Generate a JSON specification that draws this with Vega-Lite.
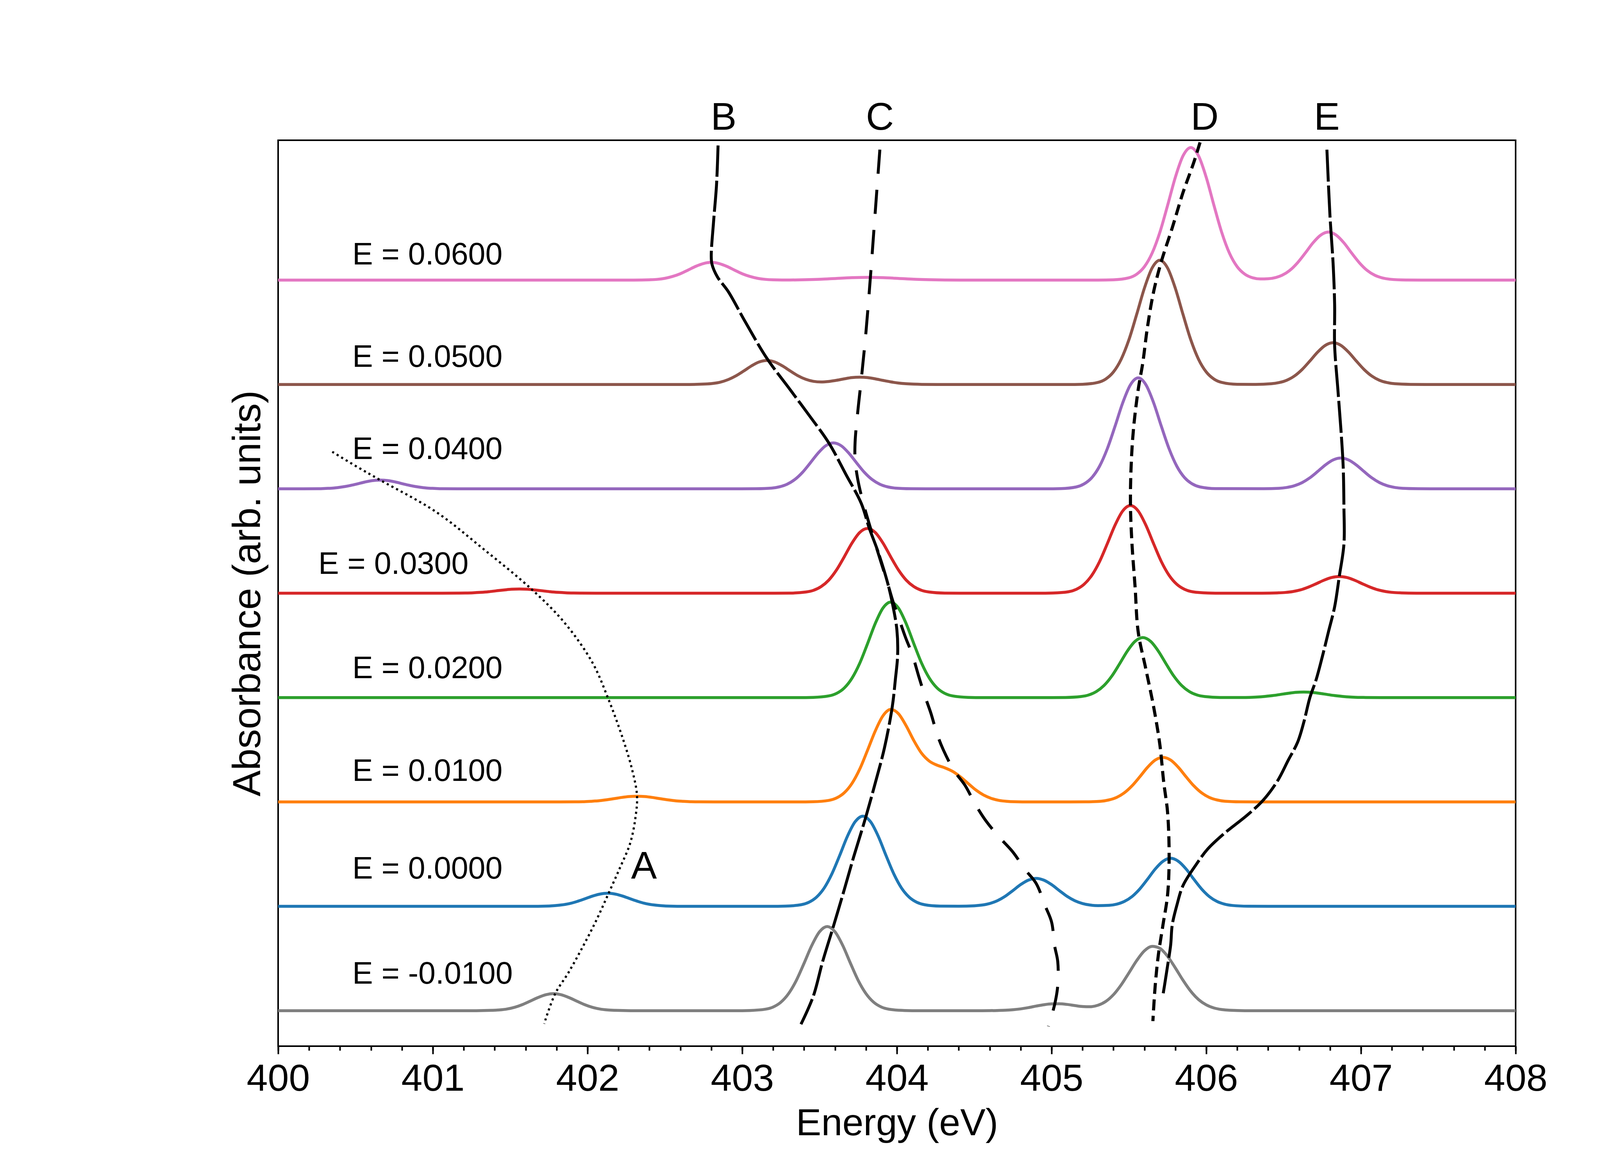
{
  "$schema": "https://vega.github.io/schema/vega-lite/v6.json",
  "width": 3168,
  "height": 2319,
  "autosize": {"type": "none"},
  "padding": {"left": 712, "top": 359, "right": 391, "bottom": 317},
  "background": "white",
  "datasets": {
    "spectra": [
      {"c":"E = -0.0100","x":400,"y":0},{"c":"E = -0.0100","x":401.28,"y":0},{"c":"E = -0.0100","x":401.38,"y":0.003},{"c":"E = -0.0100","x":401.43,"y":0.007},{"c":"E = -0.0100","x":401.48,"y":0.016},{"c":"E = -0.0100","x":401.53,"y":0.033},{"c":"E = -0.0100","x":401.58,"y":0.059},{"c":"E = -0.0100","x":401.63,"y":0.092},{"c":"E = -0.0100","x":401.68,"y":0.126},{"c":"E = -0.0100","x":401.73,"y":0.153},{"c":"E = -0.0100","x":401.78,"y":0.163},{"c":"E = -0.0100","x":401.83,"y":0.153},{"c":"E = -0.0100","x":401.88,"y":0.126},{"c":"E = -0.0100","x":401.93,"y":0.092},{"c":"E = -0.0100","x":401.98,"y":0.059},{"c":"E = -0.0100","x":402.03,"y":0.033},{"c":"E = -0.0100","x":402.08,"y":0.016},{"c":"E = -0.0100","x":402.13,"y":0.007},{"c":"E = -0.0100","x":402.18,"y":0.003},{"c":"E = -0.0100","x":402.28,"y":0},
      {"c":"E = -0.0100","x":402.95,"y":0},{"c":"E = -0.0100","x":403.05,"y":0.002},{"c":"E = -0.0100","x":403.15,"y":0.014},{"c":"E = -0.0100","x":403.2,"y":0.035},{"c":"E = -0.0100","x":403.25,"y":0.081},{"c":"E = -0.0100","x":403.3,"y":0.164},{"c":"E = -0.0100","x":403.35,"y":0.29},{"c":"E = -0.0100","x":403.4,"y":0.454},{"c":"E = -0.0100","x":403.45,"y":0.625},{"c":"E = -0.0100","x":403.5,"y":0.756},{"c":"E = -0.0100","x":403.55,"y":0.806},{"c":"E = -0.0100","x":403.6,"y":0.756},{"c":"E = -0.0100","x":403.65,"y":0.625},{"c":"E = -0.0100","x":403.7,"y":0.454},{"c":"E = -0.0100","x":403.75,"y":0.29},{"c":"E = -0.0100","x":403.8,"y":0.164},{"c":"E = -0.0100","x":403.85,"y":0.081},{"c":"E = -0.0100","x":403.9,"y":0.035},{"c":"E = -0.0100","x":403.95,"y":0.014},{"c":"E = -0.0100","x":404.05,"y":0.002},{"c":"E = -0.0100","x":404.15,"y":0},
      {"c":"E = -0.0100","x":404.55,"y":0},{"c":"E = -0.0100","x":404.65,"y":0.002},{"c":"E = -0.0100","x":404.7,"y":0.004},{"c":"E = -0.0100","x":404.75,"y":0.009},{"c":"E = -0.0100","x":404.8,"y":0.017},{"c":"E = -0.0100","x":404.85,"y":0.029},{"c":"E = -0.0100","x":404.9,"y":0.044},{"c":"E = -0.0100","x":404.95,"y":0.057},{"c":"E = -0.0100","x":405,"y":0.065},{"c":"E = -0.0100","x":405.05,"y":0.066},{"c":"E = -0.0100","x":405.1,"y":0.06},{"c":"E = -0.0100","x":405.15,"y":0.049},{"c":"E = -0.0100","x":405.2,"y":0.04},{"c":"E = -0.0100","x":405.25,"y":0.038},{"c":"E = -0.0100","x":405.3,"y":0.052},{"c":"E = -0.0100","x":405.35,"y":0.088},{"c":"E = -0.0100","x":405.4,"y":0.153},{"c":"E = -0.0100","x":405.45,"y":0.247},{"c":"E = -0.0100","x":405.5,"y":0.362},{"c":"E = -0.0100","x":405.55,"y":0.479},{"c":"E = -0.0100","x":405.6,"y":0.573},{"c":"E = -0.0100","x":405.65,"y":0.616},{"c":"E = -0.0100","x":405.7,"y":0.597},{"c":"E = -0.0100","x":405.75,"y":0.521},{"c":"E = -0.0100","x":405.8,"y":0.41},{"c":"E = -0.0100","x":405.85,"y":0.291},{"c":"E = -0.0100","x":405.9,"y":0.186},{"c":"E = -0.0100","x":405.95,"y":0.107},{"c":"E = -0.0100","x":406,"y":0.056},{"c":"E = -0.0100","x":406.05,"y":0.026},{"c":"E = -0.0100","x":406.1,"y":0.011},{"c":"E = -0.0100","x":406.15,"y":0.004},{"c":"E = -0.0100","x":406.25,"y":0},{"c":"E = -0.0100","x":408,"y":0},

      {"c":"E = 0.0000","x":400,"y":1},{"c":"E = 0.0000","x":401.63,"y":1},{"c":"E = 0.0000","x":401.73,"y":1.002},{"c":"E = 0.0000","x":401.78,"y":1.006},{"c":"E = 0.0000","x":401.83,"y":1.013},{"c":"E = 0.0000","x":401.88,"y":1.025},{"c":"E = 0.0000","x":401.93,"y":1.045},{"c":"E = 0.0000","x":401.98,"y":1.07},{"c":"E = 0.0000","x":402.03,"y":1.097},{"c":"E = 0.0000","x":402.08,"y":1.117},{"c":"E = 0.0000","x":402.13,"y":1.125},{"c":"E = 0.0000","x":402.18,"y":1.117},{"c":"E = 0.0000","x":402.23,"y":1.097},{"c":"E = 0.0000","x":402.28,"y":1.07},{"c":"E = 0.0000","x":402.33,"y":1.045},{"c":"E = 0.0000","x":402.38,"y":1.025},{"c":"E = 0.0000","x":402.43,"y":1.013},{"c":"E = 0.0000","x":402.48,"y":1.006},{"c":"E = 0.0000","x":402.53,"y":1.002},{"c":"E = 0.0000","x":402.63,"y":1},
      {"c":"E = 0.0000","x":403.18,"y":1},{"c":"E = 0.0000","x":403.28,"y":1.002},{"c":"E = 0.0000","x":403.38,"y":1.015},{"c":"E = 0.0000","x":403.43,"y":1.038},{"c":"E = 0.0000","x":403.48,"y":1.087},{"c":"E = 0.0000","x":403.53,"y":1.175},{"c":"E = 0.0000","x":403.58,"y":1.311},{"c":"E = 0.0000","x":403.63,"y":1.486},{"c":"E = 0.0000","x":403.68,"y":1.67},{"c":"E = 0.0000","x":403.73,"y":1.81},{"c":"E = 0.0000","x":403.78,"y":1.864},{"c":"E = 0.0000","x":403.83,"y":1.81},{"c":"E = 0.0000","x":403.88,"y":1.67},{"c":"E = 0.0000","x":403.93,"y":1.486},{"c":"E = 0.0000","x":403.98,"y":1.311},{"c":"E = 0.0000","x":404.03,"y":1.175},{"c":"E = 0.0000","x":404.08,"y":1.087},{"c":"E = 0.0000","x":404.13,"y":1.038},{"c":"E = 0.0000","x":404.18,"y":1.015},{"c":"E = 0.0000","x":404.28,"y":1.002},
      {"c":"E = 0.0000","x":404.4,"y":1.001},{"c":"E = 0.0000","x":404.5,"y":1.005},{"c":"E = 0.0000","x":404.55,"y":1.012},{"c":"E = 0.0000","x":404.6,"y":1.027},{"c":"E = 0.0000","x":404.65,"y":1.054},{"c":"E = 0.0000","x":404.7,"y":1.096},{"c":"E = 0.0000","x":404.75,"y":1.151},{"c":"E = 0.0000","x":404.8,"y":1.208},{"c":"E = 0.0000","x":404.85,"y":1.251},{"c":"E = 0.0000","x":404.9,"y":1.268},{"c":"E = 0.0000","x":404.95,"y":1.251},{"c":"E = 0.0000","x":405,"y":1.208},{"c":"E = 0.0000","x":405.05,"y":1.151},{"c":"E = 0.0000","x":405.1,"y":1.096},{"c":"E = 0.0000","x":405.15,"y":1.054},{"c":"E = 0.0000","x":405.2,"y":1.027},{"c":"E = 0.0000","x":405.25,"y":1.012},{"c":"E = 0.0000","x":405.3,"y":1.007},{"c":"E = 0.0000","x":405.37,"y":1.009},{"c":"E = 0.0000","x":405.42,"y":1.02},{"c":"E = 0.0000","x":405.47,"y":1.046},{"c":"E = 0.0000","x":405.52,"y":1.093},{"c":"E = 0.0000","x":405.57,"y":1.166},{"c":"E = 0.0000","x":405.62,"y":1.259},{"c":"E = 0.0000","x":405.67,"y":1.357},{"c":"E = 0.0000","x":405.72,"y":1.431},{"c":"E = 0.0000","x":405.77,"y":1.46},{"c":"E = 0.0000","x":405.82,"y":1.431},{"c":"E = 0.0000","x":405.87,"y":1.357},{"c":"E = 0.0000","x":405.92,"y":1.259},{"c":"E = 0.0000","x":405.97,"y":1.166},{"c":"E = 0.0000","x":406.02,"y":1.093},{"c":"E = 0.0000","x":406.07,"y":1.046},{"c":"E = 0.0000","x":406.12,"y":1.02},{"c":"E = 0.0000","x":406.17,"y":1.008},{"c":"E = 0.0000","x":406.27,"y":1.001},{"c":"E = 0.0000","x":406.4,"y":1},{"c":"E = 0.0000","x":408,"y":1},

      {"c":"E = 0.0100","x":400,"y":2},{"c":"E = 0.0100","x":401.82,"y":2},{"c":"E = 0.0100","x":401.92,"y":2.001},{"c":"E = 0.0100","x":401.97,"y":2.002},{"c":"E = 0.0100","x":402.02,"y":2.006},{"c":"E = 0.0100","x":402.07,"y":2.011},{"c":"E = 0.0100","x":402.12,"y":2.02},{"c":"E = 0.0100","x":402.17,"y":2.031},{"c":"E = 0.0100","x":402.22,"y":2.043},{"c":"E = 0.0100","x":402.27,"y":2.052},{"c":"E = 0.0100","x":402.32,"y":2.055},{"c":"E = 0.0100","x":402.37,"y":2.052},{"c":"E = 0.0100","x":402.42,"y":2.043},{"c":"E = 0.0100","x":402.47,"y":2.031},{"c":"E = 0.0100","x":402.52,"y":2.02},{"c":"E = 0.0100","x":402.57,"y":2.011},{"c":"E = 0.0100","x":402.62,"y":2.006},{"c":"E = 0.0100","x":402.67,"y":2.002},{"c":"E = 0.0100","x":402.72,"y":2.001},{"c":"E = 0.0100","x":402.82,"y":2},
      {"c":"E = 0.0100","x":403.36,"y":2},{"c":"E = 0.0100","x":403.46,"y":2.002},{"c":"E = 0.0100","x":403.56,"y":2.015},{"c":"E = 0.0100","x":403.61,"y":2.038},{"c":"E = 0.0100","x":403.66,"y":2.088},{"c":"E = 0.0100","x":403.71,"y":2.178},{"c":"E = 0.0100","x":403.76,"y":2.315},{"c":"E = 0.0100","x":403.81,"y":2.494},{"c":"E = 0.0100","x":403.86,"y":2.679},{"c":"E = 0.0100","x":403.91,"y":2.825},{"c":"E = 0.0100","x":403.96,"y":2.886},{"c":"E = 0.0100","x":404.01,"y":2.846},{"c":"E = 0.0100","x":404.06,"y":2.73},{"c":"E = 0.0100","x":404.11,"y":2.587},{"c":"E = 0.0100","x":404.16,"y":2.466},{"c":"E = 0.0100","x":404.21,"y":2.391},{"c":"E = 0.0100","x":404.26,"y":2.352},{"c":"E = 0.0100","x":404.31,"y":2.327},{"c":"E = 0.0100","x":404.36,"y":2.293},{"c":"E = 0.0100","x":404.41,"y":2.241},{"c":"E = 0.0100","x":404.46,"y":2.178},{"c":"E = 0.0100","x":404.51,"y":2.115},{"c":"E = 0.0100","x":404.56,"y":2.067},{"c":"E = 0.0100","x":404.61,"y":2.034},{"c":"E = 0.0100","x":404.66,"y":2.015},{"c":"E = 0.0100","x":404.71,"y":2.006},{"c":"E = 0.0100","x":404.76,"y":2.002},{"c":"E = 0.0100","x":404.86,"y":2},
      {"c":"E = 0.0100","x":405.12,"y":2},{"c":"E = 0.0100","x":405.22,"y":2.001},{"c":"E = 0.0100","x":405.32,"y":2.007},{"c":"E = 0.0100","x":405.37,"y":2.019},{"c":"E = 0.0100","x":405.42,"y":2.043},{"c":"E = 0.0100","x":405.47,"y":2.087},{"c":"E = 0.0100","x":405.52,"y":2.154},{"c":"E = 0.0100","x":405.57,"y":2.24},{"c":"E = 0.0100","x":405.62,"y":2.331},{"c":"E = 0.0100","x":405.67,"y":2.401},{"c":"E = 0.0100","x":405.72,"y":2.427},{"c":"E = 0.0100","x":405.77,"y":2.401},{"c":"E = 0.0100","x":405.82,"y":2.331},{"c":"E = 0.0100","x":405.87,"y":2.24},{"c":"E = 0.0100","x":405.92,"y":2.154},{"c":"E = 0.0100","x":405.97,"y":2.087},{"c":"E = 0.0100","x":406.02,"y":2.043},{"c":"E = 0.0100","x":406.07,"y":2.019},{"c":"E = 0.0100","x":406.12,"y":2.007},{"c":"E = 0.0100","x":406.22,"y":2.001},{"c":"E = 0.0100","x":406.32,"y":2},{"c":"E = 0.0100","x":408,"y":2},

      {"c":"E = 0.0200","x":400,"y":3},{"c":"E = 0.0200","x":403.36,"y":3},{"c":"E = 0.0200","x":403.46,"y":3.002},{"c":"E = 0.0200","x":403.56,"y":3.016},{"c":"E = 0.0200","x":403.61,"y":3.04},{"c":"E = 0.0200","x":403.66,"y":3.092},{"c":"E = 0.0200","x":403.71,"y":3.186},{"c":"E = 0.0200","x":403.76,"y":3.329},{"c":"E = 0.0200","x":403.81,"y":3.515},{"c":"E = 0.0200","x":403.86,"y":3.709},{"c":"E = 0.0200","x":403.91,"y":3.858},{"c":"E = 0.0200","x":403.96,"y":3.915},{"c":"E = 0.0200","x":404.01,"y":3.858},{"c":"E = 0.0200","x":404.06,"y":3.709},{"c":"E = 0.0200","x":404.11,"y":3.515},{"c":"E = 0.0200","x":404.16,"y":3.329},{"c":"E = 0.0200","x":404.21,"y":3.186},{"c":"E = 0.0200","x":404.26,"y":3.092},{"c":"E = 0.0200","x":404.31,"y":3.04},{"c":"E = 0.0200","x":404.36,"y":3.016},{"c":"E = 0.0200","x":404.46,"y":3.002},{"c":"E = 0.0200","x":404.56,"y":3},
      {"c":"E = 0.0200","x":405,"y":3},{"c":"E = 0.0200","x":405.09,"y":3.001},{"c":"E = 0.0200","x":405.19,"y":3.01},{"c":"E = 0.0200","x":405.24,"y":3.025},{"c":"E = 0.0200","x":405.29,"y":3.058},{"c":"E = 0.0200","x":405.34,"y":3.117},{"c":"E = 0.0200","x":405.39,"y":3.207},{"c":"E = 0.0200","x":405.44,"y":3.324},{"c":"E = 0.0200","x":405.49,"y":3.446},{"c":"E = 0.0200","x":405.54,"y":3.539},{"c":"E = 0.0200","x":405.59,"y":3.575},{"c":"E = 0.0200","x":405.64,"y":3.539},{"c":"E = 0.0200","x":405.69,"y":3.446},{"c":"E = 0.0200","x":405.74,"y":3.324},{"c":"E = 0.0200","x":405.79,"y":3.207},{"c":"E = 0.0200","x":405.84,"y":3.117},{"c":"E = 0.0200","x":405.89,"y":3.058},{"c":"E = 0.0200","x":405.94,"y":3.025},{"c":"E = 0.0200","x":405.99,"y":3.01},{"c":"E = 0.0200","x":406.09,"y":3.001},
      {"c":"E = 0.0200","x":406.23,"y":3.001},{"c":"E = 0.0200","x":406.28,"y":3.002},{"c":"E = 0.0200","x":406.33,"y":3.005},{"c":"E = 0.0200","x":406.38,"y":3.011},{"c":"E = 0.0200","x":406.43,"y":3.019},{"c":"E = 0.0200","x":406.48,"y":3.03},{"c":"E = 0.0200","x":406.53,"y":3.041},{"c":"E = 0.0200","x":406.58,"y":3.05},{"c":"E = 0.0200","x":406.63,"y":3.053},{"c":"E = 0.0200","x":406.68,"y":3.05},{"c":"E = 0.0200","x":406.73,"y":3.041},{"c":"E = 0.0200","x":406.78,"y":3.03},{"c":"E = 0.0200","x":406.83,"y":3.019},{"c":"E = 0.0200","x":406.88,"y":3.011},{"c":"E = 0.0200","x":406.93,"y":3.005},{"c":"E = 0.0200","x":406.98,"y":3.002},{"c":"E = 0.0200","x":407.03,"y":3.001},{"c":"E = 0.0200","x":407.13,"y":3},{"c":"E = 0.0200","x":408,"y":3},

      {"c":"E = 0.0300","x":400,"y":4},{"c":"E = 0.0300","x":401.06,"y":4},{"c":"E = 0.0300","x":401.16,"y":4.001},{"c":"E = 0.0300","x":401.21,"y":4.002},{"c":"E = 0.0300","x":401.26,"y":4.004},{"c":"E = 0.0300","x":401.31,"y":4.008},{"c":"E = 0.0300","x":401.36,"y":4.014},{"c":"E = 0.0300","x":401.41,"y":4.023},{"c":"E = 0.0300","x":401.46,"y":4.031},{"c":"E = 0.0300","x":401.51,"y":4.038},{"c":"E = 0.0300","x":401.56,"y":4.04},{"c":"E = 0.0300","x":401.61,"y":4.038},{"c":"E = 0.0300","x":401.66,"y":4.031},{"c":"E = 0.0300","x":401.71,"y":4.023},{"c":"E = 0.0300","x":401.76,"y":4.014},{"c":"E = 0.0300","x":401.81,"y":4.008},{"c":"E = 0.0300","x":401.86,"y":4.004},{"c":"E = 0.0300","x":401.91,"y":4.002},{"c":"E = 0.0300","x":401.96,"y":4.001},{"c":"E = 0.0300","x":402.06,"y":4},
      {"c":"E = 0.0300","x":403.21,"y":4},{"c":"E = 0.0300","x":403.31,"y":4.001},{"c":"E = 0.0300","x":403.41,"y":4.011},{"c":"E = 0.0300","x":403.46,"y":4.027},{"c":"E = 0.0300","x":403.51,"y":4.063},{"c":"E = 0.0300","x":403.56,"y":4.126},{"c":"E = 0.0300","x":403.61,"y":4.223},{"c":"E = 0.0300","x":403.66,"y":4.349},{"c":"E = 0.0300","x":403.71,"y":4.481},{"c":"E = 0.0300","x":403.76,"y":4.582},{"c":"E = 0.0300","x":403.81,"y":4.62},{"c":"E = 0.0300","x":403.86,"y":4.582},{"c":"E = 0.0300","x":403.91,"y":4.481},{"c":"E = 0.0300","x":403.96,"y":4.349},{"c":"E = 0.0300","x":404.01,"y":4.223},{"c":"E = 0.0300","x":404.06,"y":4.126},{"c":"E = 0.0300","x":404.11,"y":4.063},{"c":"E = 0.0300","x":404.16,"y":4.027},{"c":"E = 0.0300","x":404.21,"y":4.011},{"c":"E = 0.0300","x":404.31,"y":4.001},{"c":"E = 0.0300","x":404.41,"y":4},
      {"c":"E = 0.0300","x":404.91,"y":4},{"c":"E = 0.0300","x":405.01,"y":4.002},{"c":"E = 0.0300","x":405.11,"y":4.014},{"c":"E = 0.0300","x":405.16,"y":4.037},{"c":"E = 0.0300","x":405.21,"y":4.085},{"c":"E = 0.0300","x":405.26,"y":4.171},{"c":"E = 0.0300","x":405.31,"y":4.302},{"c":"E = 0.0300","x":405.36,"y":4.473},{"c":"E = 0.0300","x":405.41,"y":4.651},{"c":"E = 0.0300","x":405.46,"y":4.788},{"c":"E = 0.0300","x":405.51,"y":4.84},{"c":"E = 0.0300","x":405.56,"y":4.788},{"c":"E = 0.0300","x":405.61,"y":4.651},{"c":"E = 0.0300","x":405.66,"y":4.473},{"c":"E = 0.0300","x":405.71,"y":4.302},{"c":"E = 0.0300","x":405.76,"y":4.171},{"c":"E = 0.0300","x":405.81,"y":4.085},{"c":"E = 0.0300","x":405.86,"y":4.037},{"c":"E = 0.0300","x":405.91,"y":4.014},{"c":"E = 0.0300","x":406.01,"y":4.002},{"c":"E = 0.0300","x":406.11,"y":4},
      {"c":"E = 0.0300","x":406.36,"y":4},{"c":"E = 0.0300","x":406.46,"y":4.003},{"c":"E = 0.0300","x":406.51,"y":4.007},{"c":"E = 0.0300","x":406.56,"y":4.016},{"c":"E = 0.0300","x":406.61,"y":4.032},{"c":"E = 0.0300","x":406.66,"y":4.058},{"c":"E = 0.0300","x":406.71,"y":4.09},{"c":"E = 0.0300","x":406.76,"y":4.124},{"c":"E = 0.0300","x":406.81,"y":4.15},{"c":"E = 0.0300","x":406.86,"y":4.16},{"c":"E = 0.0300","x":406.91,"y":4.15},{"c":"E = 0.0300","x":406.96,"y":4.124},{"c":"E = 0.0300","x":407.01,"y":4.09},{"c":"E = 0.0300","x":407.06,"y":4.058},{"c":"E = 0.0300","x":407.11,"y":4.032},{"c":"E = 0.0300","x":407.16,"y":4.016},{"c":"E = 0.0300","x":407.21,"y":4.007},{"c":"E = 0.0300","x":407.26,"y":4.003},{"c":"E = 0.0300","x":407.36,"y":4},{"c":"E = 0.0300","x":408,"y":4},

      {"c":"E = 0.0400","x":400,"y":5},{"c":"E = 0.0400","x":400.16,"y":5},{"c":"E = 0.0400","x":400.26,"y":5.001},{"c":"E = 0.0400","x":400.31,"y":5.004},{"c":"E = 0.0400","x":400.36,"y":5.008},{"c":"E = 0.0400","x":400.41,"y":5.017},{"c":"E = 0.0400","x":400.46,"y":5.03},{"c":"E = 0.0400","x":400.51,"y":5.047},{"c":"E = 0.0400","x":400.56,"y":5.065},{"c":"E = 0.0400","x":400.61,"y":5.079},{"c":"E = 0.0400","x":400.66,"y":5.084},{"c":"E = 0.0400","x":400.71,"y":5.079},{"c":"E = 0.0400","x":400.76,"y":5.065},{"c":"E = 0.0400","x":400.81,"y":5.047},{"c":"E = 0.0400","x":400.86,"y":5.03},{"c":"E = 0.0400","x":400.91,"y":5.017},{"c":"E = 0.0400","x":400.96,"y":5.008},{"c":"E = 0.0400","x":401.01,"y":5.004},{"c":"E = 0.0400","x":401.06,"y":5.001},{"c":"E = 0.0400","x":401.16,"y":5},
      {"c":"E = 0.0400","x":402.99,"y":5},{"c":"E = 0.0400","x":403.09,"y":5.001},{"c":"E = 0.0400","x":403.19,"y":5.007},{"c":"E = 0.0400","x":403.24,"y":5.019},{"c":"E = 0.0400","x":403.29,"y":5.044},{"c":"E = 0.0400","x":403.34,"y":5.089},{"c":"E = 0.0400","x":403.39,"y":5.158},{"c":"E = 0.0400","x":403.44,"y":5.248},{"c":"E = 0.0400","x":403.49,"y":5.341},{"c":"E = 0.0400","x":403.54,"y":5.413},{"c":"E = 0.0400","x":403.59,"y":5.44},{"c":"E = 0.0400","x":403.64,"y":5.413},{"c":"E = 0.0400","x":403.69,"y":5.341},{"c":"E = 0.0400","x":403.74,"y":5.248},{"c":"E = 0.0400","x":403.79,"y":5.158},{"c":"E = 0.0400","x":403.84,"y":5.089},{"c":"E = 0.0400","x":403.89,"y":5.044},{"c":"E = 0.0400","x":403.94,"y":5.019},{"c":"E = 0.0400","x":403.99,"y":5.007},{"c":"E = 0.0400","x":404.09,"y":5.001},{"c":"E = 0.0400","x":404.19,"y":5},
      {"c":"E = 0.0400","x":404.96,"y":5},{"c":"E = 0.0400","x":405.06,"y":5.002},{"c":"E = 0.0400","x":405.16,"y":5.018},{"c":"E = 0.0400","x":405.21,"y":5.047},{"c":"E = 0.0400","x":405.26,"y":5.107},{"c":"E = 0.0400","x":405.31,"y":5.216},{"c":"E = 0.0400","x":405.36,"y":5.383},{"c":"E = 0.0400","x":405.41,"y":5.598},{"c":"E = 0.0400","x":405.46,"y":5.824},{"c":"E = 0.0400","x":405.51,"y":5.997},{"c":"E = 0.0400","x":405.56,"y":6.063},{"c":"E = 0.0400","x":405.61,"y":5.997},{"c":"E = 0.0400","x":405.66,"y":5.824},{"c":"E = 0.0400","x":405.71,"y":5.598},{"c":"E = 0.0400","x":405.76,"y":5.383},{"c":"E = 0.0400","x":405.81,"y":5.216},{"c":"E = 0.0400","x":405.86,"y":5.107},{"c":"E = 0.0400","x":405.91,"y":5.047},{"c":"E = 0.0400","x":405.96,"y":5.018},{"c":"E = 0.0400","x":406.06,"y":5.002},
      {"c":"E = 0.0400","x":406.37,"y":5.001},{"c":"E = 0.0400","x":406.47,"y":5.005},{"c":"E = 0.0400","x":406.52,"y":5.013},{"c":"E = 0.0400","x":406.57,"y":5.03},{"c":"E = 0.0400","x":406.62,"y":5.06},{"c":"E = 0.0400","x":406.67,"y":5.106},{"c":"E = 0.0400","x":406.72,"y":5.166},{"c":"E = 0.0400","x":406.77,"y":5.229},{"c":"E = 0.0400","x":406.82,"y":5.277},{"c":"E = 0.0400","x":406.87,"y":5.295},{"c":"E = 0.0400","x":406.92,"y":5.277},{"c":"E = 0.0400","x":406.97,"y":5.229},{"c":"E = 0.0400","x":407.02,"y":5.166},{"c":"E = 0.0400","x":407.07,"y":5.106},{"c":"E = 0.0400","x":407.12,"y":5.06},{"c":"E = 0.0400","x":407.17,"y":5.03},{"c":"E = 0.0400","x":407.22,"y":5.013},{"c":"E = 0.0400","x":407.27,"y":5.005},{"c":"E = 0.0400","x":407.37,"y":5.001},{"c":"E = 0.0400","x":407.47,"y":5},{"c":"E = 0.0400","x":408,"y":5},

      {"c":"E = 0.0500","x":400,"y":6},{"c":"E = 0.0500","x":402.66,"y":6},{"c":"E = 0.0500","x":402.76,"y":6.004},{"c":"E = 0.0500","x":402.81,"y":6.01},{"c":"E = 0.0500","x":402.86,"y":6.023},{"c":"E = 0.0500","x":402.91,"y":6.047},{"c":"E = 0.0500","x":402.96,"y":6.083},{"c":"E = 0.0500","x":403.01,"y":6.129},{"c":"E = 0.0500","x":403.06,"y":6.178},{"c":"E = 0.0500","x":403.11,"y":6.216},{"c":"E = 0.0500","x":403.16,"y":6.23},{"c":"E = 0.0500","x":403.21,"y":6.216},{"c":"E = 0.0500","x":403.26,"y":6.178},{"c":"E = 0.0500","x":403.31,"y":6.13},{"c":"E = 0.0500","x":403.36,"y":6.084},{"c":"E = 0.0500","x":403.41,"y":6.05},{"c":"E = 0.0500","x":403.46,"y":6.03},{"c":"E = 0.0500","x":403.51,"y":6.024},{"c":"E = 0.0500","x":403.56,"y":6.029},{"c":"E = 0.0500","x":403.61,"y":6.04},{"c":"E = 0.0500","x":403.66,"y":6.054},{"c":"E = 0.0500","x":403.71,"y":6.066},{"c":"E = 0.0500","x":403.76,"y":6.07},{"c":"E = 0.0500","x":403.81,"y":6.066},{"c":"E = 0.0500","x":403.86,"y":6.054},{"c":"E = 0.0500","x":403.91,"y":6.039},{"c":"E = 0.0500","x":403.96,"y":6.025},{"c":"E = 0.0500","x":404.01,"y":6.014},{"c":"E = 0.0500","x":404.06,"y":6.007},{"c":"E = 0.0500","x":404.11,"y":6.003},{"c":"E = 0.0500","x":404.16,"y":6.001},{"c":"E = 0.0500","x":404.26,"y":6},
      {"c":"E = 0.0500","x":405.1,"y":6},{"c":"E = 0.0500","x":405.2,"y":6.002},{"c":"E = 0.0500","x":405.3,"y":6.02},{"c":"E = 0.0500","x":405.35,"y":6.052},{"c":"E = 0.0500","x":405.4,"y":6.12},{"c":"E = 0.0500","x":405.45,"y":6.242},{"c":"E = 0.0500","x":405.5,"y":6.428},{"c":"E = 0.0500","x":405.55,"y":6.67},{"c":"E = 0.0500","x":405.6,"y":6.922},{"c":"E = 0.0500","x":405.65,"y":7.116},{"c":"E = 0.0500","x":405.7,"y":7.19},{"c":"E = 0.0500","x":405.75,"y":7.116},{"c":"E = 0.0500","x":405.8,"y":6.922},{"c":"E = 0.0500","x":405.85,"y":6.67},{"c":"E = 0.0500","x":405.9,"y":6.428},{"c":"E = 0.0500","x":405.95,"y":6.242},{"c":"E = 0.0500","x":406,"y":6.12},{"c":"E = 0.0500","x":406.05,"y":6.052},{"c":"E = 0.0500","x":406.1,"y":6.02},{"c":"E = 0.0500","x":406.2,"y":6.002},
      {"c":"E = 0.0500","x":406.32,"y":6.001},{"c":"E = 0.0500","x":406.42,"y":6.007},{"c":"E = 0.0500","x":406.47,"y":6.018},{"c":"E = 0.0500","x":406.52,"y":6.04},{"c":"E = 0.0500","x":406.57,"y":6.081},{"c":"E = 0.0500","x":406.62,"y":6.144},{"c":"E = 0.0500","x":406.67,"y":6.225},{"c":"E = 0.0500","x":406.72,"y":6.31},{"c":"E = 0.0500","x":406.77,"y":6.375},{"c":"E = 0.0500","x":406.82,"y":6.4},{"c":"E = 0.0500","x":406.87,"y":6.375},{"c":"E = 0.0500","x":406.92,"y":6.31},{"c":"E = 0.0500","x":406.97,"y":6.225},{"c":"E = 0.0500","x":407.02,"y":6.144},{"c":"E = 0.0500","x":407.07,"y":6.081},{"c":"E = 0.0500","x":407.12,"y":6.04},{"c":"E = 0.0500","x":407.17,"y":6.018},{"c":"E = 0.0500","x":407.22,"y":6.007},{"c":"E = 0.0500","x":407.32,"y":6.001},{"c":"E = 0.0500","x":407.42,"y":6},{"c":"E = 0.0500","x":408,"y":6},

      {"c":"E = 0.0600","x":400,"y":7},{"c":"E = 0.0600","x":402.3,"y":7},{"c":"E = 0.0600","x":402.4,"y":7.003},{"c":"E = 0.0600","x":402.45,"y":7.007},{"c":"E = 0.0600","x":402.5,"y":7.017},{"c":"E = 0.0600","x":402.55,"y":7.035},{"c":"E = 0.0600","x":402.6,"y":7.061},{"c":"E = 0.0600","x":402.65,"y":7.096},{"c":"E = 0.0600","x":402.7,"y":7.132},{"c":"E = 0.0600","x":402.75,"y":7.159},{"c":"E = 0.0600","x":402.8,"y":7.17},{"c":"E = 0.0600","x":402.85,"y":7.159},{"c":"E = 0.0600","x":402.9,"y":7.132},{"c":"E = 0.0600","x":402.95,"y":7.096},{"c":"E = 0.0600","x":403,"y":7.061},{"c":"E = 0.0600","x":403.05,"y":7.035},{"c":"E = 0.0600","x":403.1,"y":7.017},{"c":"E = 0.0600","x":403.15,"y":7.007},{"c":"E = 0.0600","x":403.2,"y":7.003},{"c":"E = 0.0600","x":403.31,"y":7.001},{"c":"E = 0.0600","x":403.41,"y":7.004},{"c":"E = 0.0600","x":403.51,"y":7.008},{"c":"E = 0.0600","x":403.61,"y":7.016},{"c":"E = 0.0600","x":403.71,"y":7.023},{"c":"E = 0.0600","x":403.81,"y":7.026},{"c":"E = 0.0600","x":403.91,"y":7.023},{"c":"E = 0.0600","x":404.01,"y":7.016},{"c":"E = 0.0600","x":404.11,"y":7.008},{"c":"E = 0.0600","x":404.21,"y":7.004},{"c":"E = 0.0600","x":404.31,"y":7.001},{"c":"E = 0.0600","x":404.41,"y":7},
      {"c":"E = 0.0600","x":405.3,"y":7},{"c":"E = 0.0600","x":405.4,"y":7.003},{"c":"E = 0.0600","x":405.5,"y":7.022},{"c":"E = 0.0600","x":405.55,"y":7.056},{"c":"E = 0.0600","x":405.6,"y":7.128},{"c":"E = 0.0600","x":405.65,"y":7.258},{"c":"E = 0.0600","x":405.7,"y":7.457},{"c":"E = 0.0600","x":405.75,"y":7.715},{"c":"E = 0.0600","x":405.8,"y":7.984},{"c":"E = 0.0600","x":405.85,"y":8.191},{"c":"E = 0.0600","x":405.9,"y":8.27},{"c":"E = 0.0600","x":405.95,"y":8.191},{"c":"E = 0.0600","x":406,"y":7.984},{"c":"E = 0.0600","x":406.05,"y":7.715},{"c":"E = 0.0600","x":406.1,"y":7.457},{"c":"E = 0.0600","x":406.15,"y":7.258},{"c":"E = 0.0600","x":406.2,"y":7.128},{"c":"E = 0.0600","x":406.25,"y":7.056},{"c":"E = 0.0600","x":406.3,"y":7.022},{"c":"E = 0.0600","x":406.35,"y":7.011},{"c":"E = 0.0600","x":406.4,"y":7.013},{"c":"E = 0.0600","x":406.45,"y":7.025},{"c":"E = 0.0600","x":406.49,"y":7.046},{"c":"E = 0.0600","x":406.54,"y":7.093},{"c":"E = 0.0600","x":406.59,"y":7.166},{"c":"E = 0.0600","x":406.64,"y":7.259},{"c":"E = 0.0600","x":406.69,"y":7.357},{"c":"E = 0.0600","x":406.74,"y":7.431},{"c":"E = 0.0600","x":406.79,"y":7.46},{"c":"E = 0.0600","x":406.84,"y":7.431},{"c":"E = 0.0600","x":406.89,"y":7.357},{"c":"E = 0.0600","x":406.94,"y":7.259},{"c":"E = 0.0600","x":406.99,"y":7.166},{"c":"E = 0.0600","x":407.04,"y":7.093},{"c":"E = 0.0600","x":407.09,"y":7.046},{"c":"E = 0.0600","x":407.14,"y":7.02},{"c":"E = 0.0600","x":407.19,"y":7.008},{"c":"E = 0.0600","x":407.29,"y":7.001},{"c":"E = 0.0600","x":407.39,"y":7},{"c":"E = 0.0600","x":408,"y":7}
    ],
    "guides": [
      {"g":"A","i":1,"x":400.35,"y":5.355},{"g":"A","i":2,"x":400.5,"y":5.22},{"g":"A","i":3,"x":400.66,"y":5.084},{"g":"A","i":4,"x":401.02,"y":4.78},{"g":"A","i":5,"x":401.33,"y":4.42},{"g":"A","i":6,"x":401.64,"y":4.036},{"g":"A","i":7,"x":401.85,"y":3.72},{"g":"A","i":8,"x":402.03,"y":3.34},{"g":"A","i":9,"x":402.13,"y":3.005},{"g":"A","i":10,"x":402.23,"y":2.6},{"g":"A","i":11,"x":402.29,"y":2.3},{"g":"A","i":12,"x":402.32,"y":2.06},{"g":"A","i":13,"x":402.31,"y":1.85},{"g":"A","i":14,"x":402.275,"y":1.6},{"g":"A","i":15,"x":402.21,"y":1.37},{"g":"A","i":16,"x":402.135,"y":1.12},{"g":"A","i":17,"x":402.055,"y":0.86},{"g":"A","i":18,"x":401.965,"y":0.6},{"g":"A","i":19,"x":401.875,"y":0.36},{"g":"A","i":20,"x":401.79,"y":0.16},{"g":"A","i":21,"x":401.72,"y":-0.125},
      {"g":"B","i":1,"x":402.844,"y":8.29},{"g":"B","i":2,"x":402.834,"y":7.91},{"g":"B","i":3,"x":402.815,"y":7.56},{"g":"B","i":4,"x":402.8,"y":7.23},{"g":"B","i":5,"x":402.805,"y":7.15},{"g":"B","i":6,"x":402.84,"y":7.03},{"g":"B","i":7,"x":402.91,"y":6.89},{"g":"B","i":8,"x":403.02,"y":6.6},{"g":"B","i":9,"x":403.16,"y":6.25},{"g":"B","i":10,"x":403.31,"y":5.95},{"g":"B","i":11,"x":403.43,"y":5.71},{"g":"B","i":12,"x":403.56,"y":5.44},{"g":"B","i":13,"x":403.67,"y":5.14},{"g":"B","i":14,"x":403.77,"y":4.86},{"g":"B","i":15,"x":403.82,"y":4.63},{"g":"B","i":16,"x":403.88,"y":4.39},{"g":"B","i":17,"x":403.94,"y":4.1},{"g":"B","i":18,"x":403.97,"y":3.91},{"g":"B","i":19,"x":404,"y":3.65},{"g":"B","i":20,"x":404.005,"y":3.41},{"g":"B","i":21,"x":403.99,"y":3.17},{"g":"B","i":22,"x":403.97,"y":2.91},{"g":"B","i":23,"x":403.92,"y":2.52},{"g":"B","i":24,"x":403.86,"y":2.18},{"g":"B","i":25,"x":403.8,"y":1.86},{"g":"B","i":26,"x":403.72,"y":1.47},{"g":"B","i":27,"x":403.66,"y":1.16},{"g":"B","i":28,"x":403.59,"y":0.81},{"g":"B","i":29,"x":403.52,"y":0.47},{"g":"B","i":30,"x":403.46,"y":0.14},{"g":"B","i":31,"x":403.38,"y":-0.13},
      {"g":"C","i":1,"x":403.89,"y":8.25},{"g":"C","i":2,"x":403.86,"y":7.65},{"g":"C","i":3,"x":403.83,"y":7.05},{"g":"C","i":4,"x":403.8,"y":6.5},{"g":"C","i":5,"x":403.77,"y":6.05},{"g":"C","i":6,"x":403.748,"y":5.75},{"g":"C","i":7,"x":403.73,"y":5.45},{"g":"C","i":8,"x":403.73,"y":5.28},{"g":"C","i":9,"x":403.746,"y":5.1},{"g":"C","i":10,"x":403.778,"y":4.89},{"g":"C","i":11,"x":403.818,"y":4.68},{"g":"C","i":12,"x":403.859,"y":4.48},{"g":"C","i":13,"x":403.899,"y":4.29},{"g":"C","i":14,"x":403.939,"y":4.1},{"g":"C","i":15,"x":403.975,"y":3.92},{"g":"C","i":16,"x":404.015,"y":3.75},{"g":"C","i":17,"x":404.055,"y":3.58},{"g":"C","i":18,"x":404.1,"y":3.41},{"g":"C","i":19,"x":404.14,"y":3.21},{"g":"C","i":20,"x":404.18,"y":3.02},{"g":"C","i":21,"x":404.22,"y":2.85},{"g":"C","i":22,"x":404.26,"y":2.65},{"g":"C","i":23,"x":404.3,"y":2.5},{"g":"C","i":24,"x":404.37,"y":2.3},{"g":"C","i":25,"x":404.44,"y":2.16},{"g":"C","i":26,"x":404.51,"y":1.97},{"g":"C","i":27,"x":404.58,"y":1.81},{"g":"C","i":28,"x":404.67,"y":1.65},{"g":"C","i":29,"x":404.75,"y":1.52},{"g":"C","i":30,"x":404.83,"y":1.35},{"g":"C","i":31,"x":404.9,"y":1.22},{"g":"C","i":32,"x":404.96,"y":1},{"g":"C","i":33,"x":405,"y":0.85},{"g":"C","i":34,"x":405.02,"y":0.62},{"g":"C","i":35,"x":405.04,"y":0.47},{"g":"C","i":36,"x":405.04,"y":0.24},{"g":"C","i":37,"x":405.02,"y":0.06},{"g":"C","i":38,"x":404.98,"y":-0.15},
      {"g":"D","i":1,"x":405.96,"y":8.32},{"g":"D","i":2,"x":405.92,"y":8.13},{"g":"D","i":3,"x":405.85,"y":7.84},{"g":"D","i":4,"x":405.78,"y":7.5},{"g":"D","i":5,"x":405.71,"y":7.18},{"g":"D","i":6,"x":405.66,"y":6.89},{"g":"D","i":7,"x":405.62,"y":6.55},{"g":"D","i":8,"x":405.59,"y":6.21},{"g":"D","i":9,"x":405.56,"y":5.95},{"g":"D","i":10,"x":405.53,"y":5.58},{"g":"D","i":11,"x":405.515,"y":5.24},{"g":"D","i":12,"x":405.51,"y":4.85},{"g":"D","i":13,"x":405.52,"y":4.47},{"g":"D","i":14,"x":405.54,"y":4.06},{"g":"D","i":15,"x":405.56,"y":3.63},{"g":"D","i":16,"x":405.61,"y":3.27},{"g":"D","i":17,"x":405.66,"y":2.91},{"g":"D","i":18,"x":405.7,"y":2.55},{"g":"D","i":19,"x":405.725,"y":2.19},{"g":"D","i":20,"x":405.75,"y":1.9},{"g":"D","i":21,"x":405.76,"y":1.47},{"g":"D","i":22,"x":405.75,"y":1.11},{"g":"D","i":23,"x":405.72,"y":0.82},{"g":"D","i":24,"x":405.69,"y":0.53},{"g":"D","i":25,"x":405.67,"y":0.24},{"g":"D","i":26,"x":405.655,"y":-0.1},
      {"g":"E","i":1,"x":406.78,"y":8.25},{"g":"E","i":2,"x":406.8,"y":7.61},{"g":"E","i":3,"x":406.82,"y":7.16},{"g":"E","i":4,"x":406.83,"y":6.76},{"g":"E","i":5,"x":406.83,"y":6.37},{"g":"E","i":6,"x":406.85,"y":5.97},{"g":"E","i":7,"x":406.87,"y":5.58},{"g":"E","i":8,"x":406.885,"y":5.22},{"g":"E","i":9,"x":406.89,"y":4.83},{"g":"E","i":10,"x":406.89,"y":4.47},{"g":"E","i":11,"x":406.86,"y":4.16},{"g":"E","i":12,"x":406.83,"y":3.87},{"g":"E","i":13,"x":406.79,"y":3.63},{"g":"E","i":14,"x":406.75,"y":3.39},{"g":"E","i":15,"x":406.71,"y":3.17},{"g":"E","i":16,"x":406.67,"y":3},{"g":"E","i":17,"x":406.63,"y":2.76},{"g":"E","i":18,"x":406.59,"y":2.57},{"g":"E","i":19,"x":406.53,"y":2.4},{"g":"E","i":20,"x":406.46,"y":2.2},{"g":"E","i":21,"x":406.37,"y":2.02},{"g":"E","i":22,"x":406.27,"y":1.88},{"g":"E","i":23,"x":406.11,"y":1.69},{"g":"E","i":24,"x":406.01,"y":1.55},{"g":"E","i":25,"x":405.93,"y":1.39},{"g":"E","i":26,"x":405.85,"y":1.2},{"g":"E","i":27,"x":405.81,"y":1.01},{"g":"E","i":28,"x":405.78,"y":0.82},{"g":"E","i":29,"x":405.77,"y":0.63},{"g":"E","i":30,"x":405.75,"y":0.43},{"g":"E","i":31,"x":405.73,"y":0.24},{"g":"E","i":32,"x":405.72,"y":0.15}
    ],
    "labels": [
      {"t":"E = 0.0600","x":400.48,"y":7.15},
      {"t":"E = 0.0500","x":400.48,"y":6.17},
      {"t":"E = 0.0400","x":400.48,"y":5.285},
      {"t":"E = 0.0300","x":400.26,"y":4.185},
      {"t":"E = 0.0200","x":400.48,"y":3.185},
      {"t":"E = 0.0100","x":400.48,"y":2.2},
      {"t":"E = 0.0000","x":400.48,"y":1.267},
      {"t":"E = -0.0100","x":400.48,"y":0.26}
    ],
    "letters": [
      {"t":"A","x":402.365,"y":1.267},
      {"t":"B","x":402.88,"y":8.44},
      {"t":"C","x":403.89,"y":8.44},
      {"t":"D","x":405.99,"y":8.44},
      {"t":"E","x":406.78,"y":8.44}
    ]
  },
  "layer": [
    {
      "data": {"name": "spectra"},
      "mark": {"type": "line", "interpolate": "monotone", "strokeWidth": 7.5},
      "encoding": {
        "x": {
          "field": "x",
          "type": "quantitative",
          "scale": {"domain": [400, 408], "nice": false, "zero": false},
          "axis": {
            "orient": "bottom",
            "values": [400, 401, 402, 403, 404, 405, 406, 407, 408],
            "format": "d",
            "title": "Energy (eV)",
            "grid": false,
            "domain": false,
            "tickSize": 20,
            "tickWidth": 4,
            "tickColor": "black",
            "labelFont": "Liberation Sans",
            "labelFontSize": 97,
            "labelColor": "black",
            "labelPadding": 16,
            "labelFlush": false,
            "labelOverlap": false,
            "titleFont": "Liberation Sans",
            "titleFontSize": 97,
            "titleFontWeight": "normal",
            "titleColor": "black",
            "titlePadding": 18
          }
        },
        "y": {
          "field": "y",
          "type": "quantitative",
          "scale": {"domain": [-0.34, 8.34], "nice": false, "zero": false},
          "axis": {
            "title": "Absorbance (arb. units)",
            "labels": false,
            "ticks": false,
            "domain": false,
            "grid": false,
            "titleFont": "Liberation Sans",
            "titleFontSize": 100,
            "titleFontWeight": "normal",
            "titleColor": "black",
            "titleBaseline": "alphabetic",
            "titlePadding": 47
          }
        },
        "color": {
          "field": "c",
          "type": "nominal",
          "scale": {
            "domain": ["E = -0.0100", "E = 0.0000", "E = 0.0100", "E = 0.0200", "E = 0.0300", "E = 0.0400", "E = 0.0500", "E = 0.0600"],
            "range": ["#7f7f7f", "#1f77b4", "#ff7f0e", "#2ca02c", "#d62728", "#9467bd", "#8c564b", "#e377c2"]
          },
          "legend": null
        }
      }
    },
    {
      "data": {"name": "guides"},
      "transform": [{"filter": "datum.g == 'A'"}],
      "mark": {"type": "line", "interpolate": "catmull-rom", "color": "black", "strokeWidth": 5.5, "strokeDash": [5.5, 8]},
      "encoding": {
        "x": {"field": "x", "type": "quantitative", "axis": null},
        "y": {"field": "y", "type": "quantitative", "axis": null},
        "order": {"field": "i", "type": "quantitative"}
      }
    },
    {
      "data": {"name": "guides"},
      "transform": [{"filter": "datum.g == 'B'"}],
      "mark": {"type": "line", "interpolate": "catmull-rom", "color": "black", "strokeWidth": 7.5, "strokeDash": [80, 10]},
      "encoding": {
        "x": {"field": "x", "type": "quantitative", "axis": null},
        "y": {"field": "y", "type": "quantitative", "axis": null},
        "order": {"field": "i", "type": "quantitative"}
      }
    },
    {
      "data": {"name": "guides"},
      "transform": [{"filter": "datum.g == 'C'"}],
      "mark": {"type": "line", "interpolate": "catmull-rom", "color": "black", "strokeWidth": 7.5, "strokeDash": [62, 41]},
      "encoding": {
        "x": {"field": "x", "type": "quantitative", "axis": null},
        "y": {"field": "y", "type": "quantitative", "axis": null},
        "order": {"field": "i", "type": "quantitative"}
      }
    },
    {
      "data": {"name": "guides"},
      "transform": [{"filter": "datum.g == 'D'"}],
      "mark": {"type": "line", "interpolate": "catmull-rom", "color": "black", "strokeWidth": 8, "strokeDash": [28, 14]},
      "encoding": {
        "x": {"field": "x", "type": "quantitative", "axis": null},
        "y": {"field": "y", "type": "quantitative", "axis": null},
        "order": {"field": "i", "type": "quantitative"}
      }
    },
    {
      "data": {"name": "guides"},
      "transform": [{"filter": "datum.g == 'E'"}],
      "mark": {"type": "line", "interpolate": "catmull-rom", "color": "black", "strokeWidth": 7.5, "strokeDash": [82, 10]},
      "encoding": {
        "x": {"field": "x", "type": "quantitative", "axis": null},
        "y": {"field": "y", "type": "quantitative", "axis": null},
        "order": {"field": "i", "type": "quantitative"}
      }
    },
    {
      "data": {"name": "labels"},
      "mark": {"type": "text", "align": "left", "baseline": "alphabetic", "font": "Liberation Sans", "fontSize": 79, "color": "black"},
      "encoding": {
        "x": {
          "field": "x",
          "type": "quantitative",
          "axis": {
            "orient": "bottom",
            "values": [400, 400.2, 400.4, 400.6, 400.8, 401, 401.2, 401.4, 401.6, 401.8, 402, 402.2, 402.4, 402.6, 402.8, 403, 403.2, 403.4, 403.6, 403.8, 404, 404.2, 404.4, 404.6, 404.8, 405, 405.2, 405.4, 405.6, 405.8, 406, 406.2, 406.4, 406.6, 406.8, 407, 407.2, 407.4, 407.6, 407.8, 408],
            "labels": false,
            "title": null,
            "grid": false,
            "domain": false,
            "tickSize": 11,
            "tickWidth": 4,
            "tickColor": "black"
          }
        },
        "y": {"field": "y", "type": "quantitative", "axis": null},
        "text": {"field": "t"}
      }
    },
    {
      "data": {"name": "letters"},
      "mark": {"type": "text", "align": "center", "baseline": "alphabetic", "font": "Liberation Sans", "fontSize": 99, "color": "black"},
      "encoding": {
        "x": {"field": "x", "type": "quantitative", "axis": null},
        "y": {"field": "y", "type": "quantitative", "axis": null},
        "text": {"field": "t"}
      }
    }
  ],
  "resolve": {"axis": {"x": "independent", "y": "independent"}},
  "config": {
    "view": {"stroke": "black", "strokeWidth": 4},
    "font": "Liberation Sans"
  }
}
